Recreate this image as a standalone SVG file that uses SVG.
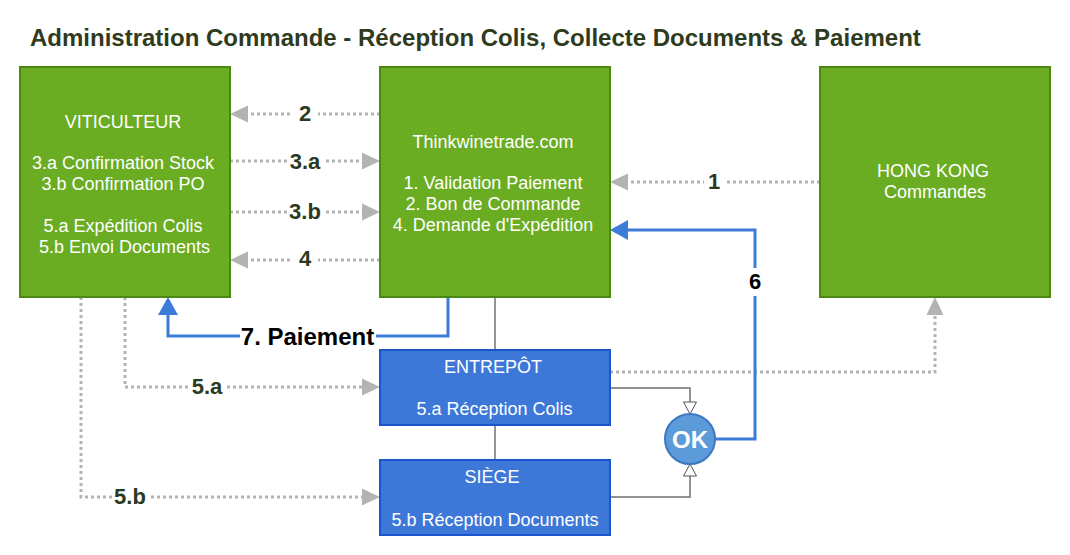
<svg xmlns="http://www.w3.org/2000/svg" width="1070" height="555" viewBox="0 0 1070 555">
<style>
text{font-family:"Liberation Sans",Arial,sans-serif}
.title{font-size:24px;font-weight:bold;fill:#2e3b1c}
.green{fill:#6aad23;stroke:#4a8a13;stroke-width:2}
.blue{fill:#3d78d8;stroke:#1a55cc;stroke-width:2}
.ok{fill:#5b9bd9;stroke:#3d77c2;stroke-width:2}
.nt{font-size:18px;fill:#ffffff;text-anchor:middle}
.okt{font-size:24px;font-weight:bold;fill:#ffffff;text-anchor:middle}
.dot{fill:none;stroke:#b3b3b3;stroke-width:3;stroke-dasharray:3 3}
.bl{fill:none;stroke:#3d7bd9;stroke-width:3}
.thin{fill:none;stroke:#707070;stroke-width:1.5}
.lab{font-size:22px;font-weight:bold;fill:#2b3a1e;text-anchor:middle}
.labk{font-size:22px;font-weight:bold;fill:#000000;text-anchor:middle}
.bg{fill:#ffffff}
</style>
<defs>
<marker id="ga" markerUnits="userSpaceOnUse" markerWidth="18" markerHeight="18" refX="0" refY="8.5" orient="auto" overflow="visible">
<path d="M0,0 L18,8.5 L0,17 Z" fill="#b3b3b3"/>
</marker>
<marker id="ba" markerUnits="userSpaceOnUse" markerWidth="18" markerHeight="20" refX="0" refY="10" orient="auto" overflow="visible">
<path d="M0,0 L18,10 L0,20 Z" fill="#3d7bd9"/>
</marker>
<marker id="oa" markerUnits="userSpaceOnUse" markerWidth="14" markerHeight="14" refX="0" refY="6.5" orient="auto" overflow="visible">
<path d="M0,0 L12,6.5 L0,13 Z" fill="#ffffff" stroke="#555555" stroke-width="1"/>
</marker>
</defs>
<rect width="1070" height="555" fill="#ffffff"/>
<text class="title" x="30" y="46">Administration Commande - Réception Colis, Collecte Documents &amp; Paiement</text>

<g id="connectors">
<path class="thin" d="M495,297 L495,350"/>
<path class="thin" d="M495,425 L495,460"/>
<path class="dot" d="M380,114 L248,114" marker-end="url(#ga)"/>
<path class="dot" d="M230,161 L362,161" marker-end="url(#ga)"/>
<path class="dot" d="M230,212 L362,212" marker-end="url(#ga)"/>
<path class="dot" d="M380,260 L248,260" marker-end="url(#ga)"/>
<path class="dot" d="M820,182 L628,182" marker-end="url(#ga)"/>
<path class="dot" d="M125,297 L125,387 L362,387" marker-end="url(#ga)"/>
<path class="dot" d="M81,297 L81,497 L362,497" marker-end="url(#ga)"/>
<path class="dot" d="M610,372 L935,372 L935,315" marker-end="url(#ga)"/>
<path class="thin" d="M610,388 L690,388 L690,402" marker-end="url(#oa)"/>
<path class="thin" d="M610,497 L690,497 L690,476" marker-end="url(#oa)"/>
<path class="bl" d="M715,439 L755,439 L755,230 L628,230" marker-end="url(#ba)"/>
<path class="bl" d="M448,297 L448,336 L168,336 L168,315" marker-end="url(#ba)"/>
<rect class="bg" x="292" y="101" width="26" height="26"/>
<text class="lab" x="305" y="121">2</text>
<rect class="bg" x="287" y="148" width="36" height="26"/>
<text class="lab" x="305" y="169">3.a</text>
<rect class="bg" x="287" y="199" width="36" height="26"/>
<text class="lab" x="305" y="219">3.b</text>
<rect class="bg" x="292" y="247" width="26" height="26"/>
<text class="lab" x="305" y="266">4</text>
<rect class="bg" x="704" y="169" width="22" height="26"/>
<text class="lab" x="714" y="189">1</text>
<rect class="bg" x="744" y="268" width="22" height="28"/>
<text class="labk" x="755" y="289">6</text>
<rect class="bg" x="240" y="322" width="136" height="28"/>
<text class="labk" x="307.5" y="345" style="font-size:24px">7. Paiement</text>
<rect class="bg" x="189" y="374" width="36" height="26"/>
<text class="lab" x="207" y="394">5.a</text>
<rect class="bg" x="112" y="484" width="36" height="26"/>
<text class="lab" x="130" y="504">5.b</text>
</g>

<g id="viticulteur">
<rect class="green" x="20" y="67" width="210" height="230"/>
<text class="nt" x="123" y="127.5">VITICULTEUR</text>
<text class="nt" x="123" y="169">3.a Confirmation Stock</text>
<text class="nt" x="123" y="190">3.b Confirmation PO</text>
<text class="nt" x="123" y="231.5">5.a Expédition Colis</text>
<text class="nt" x="124.5" y="252.5">5.b Envoi Documents</text>
</g>

<g id="thinkwinetrade">
<rect class="green" x="380" y="67" width="230" height="230"/>
<text class="nt" x="493" y="147.5">Thinkwinetrade.com</text>
<text class="nt" x="493" y="189">1. Validation Paiement</text>
<text class="nt" x="493" y="210">2. Bon de Commande</text>
<text class="nt" x="493" y="230.5">4. Demande d'Expédition</text>
</g>

<g id="hongkong">
<rect class="green" x="820" y="67" width="230" height="230"/>
<text class="nt" x="933" y="176.5">HONG KONG</text>
<text class="nt" x="935" y="197.5">Commandes</text>
</g>

<g id="entrepot">
<rect class="blue" x="380" y="350" width="230" height="75"/>
<text class="nt" x="493" y="372.5">ENTREPÔT</text>
<text class="nt" x="494.5" y="415">5.a Réception Colis</text>
</g>

<g id="siege">
<rect class="blue" x="380" y="460" width="230" height="75"/>
<text class="nt" x="492" y="482.5">SIÈGE</text>
<text class="nt" x="495" y="525.5">5.b Réception Documents</text>
</g>

<g id="ok">
<circle class="ok" cx="690" cy="439" r="25"/>
<text class="okt" x="690" y="447.5">OK</text>
</g>
</svg>
